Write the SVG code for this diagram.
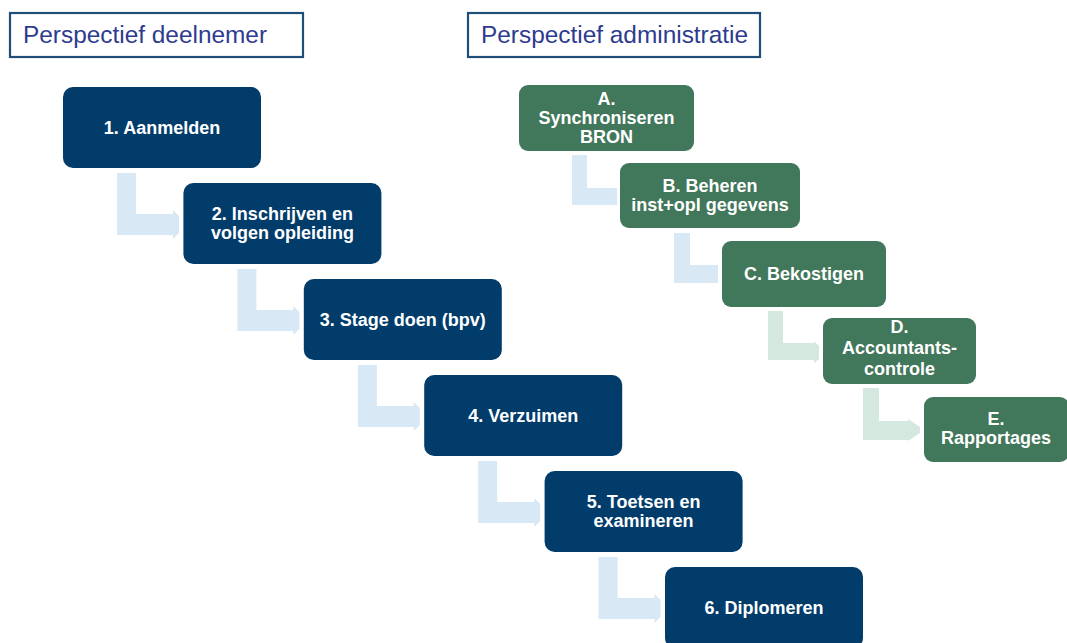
<svg xmlns="http://www.w3.org/2000/svg" width="1067" height="643" viewBox="0 0 1067 643">
<defs>
<style>
.title{fill:#ffffff;stroke:#1f4e79;stroke-width:2.2}
.ttext{font-family:"Liberation Sans",Arial,sans-serif;font-size:24.4px;fill:#2e3b8f}
.bbox{fill:#023c6b}
.gbox{fill:#41775a}
.lbl{font-family:"Liberation Sans",Arial,sans-serif;font-size:18px;font-weight:bold;fill:#ffffff;text-anchor:middle}
.cb{fill:#d8e8f5}
.cg{fill:#d5e8e0}
</style>
</defs>
<rect width="1067" height="643" fill="#ffffff"/>
<g id="title-deelnemer">
<rect class="title" x="10" y="13" width="293" height="44"/>
<text class="ttext" x="23" y="43">Perspectief deelnemer</text>
</g>
<g id="title-administratie">
<rect class="title" x="468" y="13" width="292" height="44"/>
<text class="ttext" x="481" y="43">Perspectief administratie</text>
</g>
<g id="connectors">
<polygon class="cb" points="117,173 136,173 136,214 173,214 173,210 179,216 179,233 173,239 173,235 117,235"/>
<polygon class="cb" points="237.4,269 256.4,269 256.4,310 293.4,310 293.4,306 299.4,312 299.4,329 293.4,335 293.4,331 237.4,331"/>
<polygon class="cb" points="357.8,365 376.8,365 376.8,406 413.8,406 413.8,402 419.8,408 419.8,425 413.8,431 413.8,427 357.8,427"/>
<polygon class="cb" points="478.2,461 497.2,461 497.2,502 534.2,502 534.2,498 540.2,504 540.2,521 534.2,527 534.2,523 478.2,523"/>
<polygon class="cb" points="598.6,557 617.6,557 617.6,598 654.6,598 654.6,594 660.6,600 660.6,617 654.6,623 654.6,619 598.6,619"/>
<polygon class="cb" points="572,155 587,155 587,188 617,188 617,205 572,205"/>
<polygon class="cb" points="674,233 690,233 690,265 718,265 718,283 674,283"/>
<polygon class="cg" points="768,311 783,311 783,343 814,343 814,341 819,346 819,359 814,363 814,360 768,360"/>
<polygon class="cg" points="863,388 879,388 879,421 908,421 908,419 920,427 920,433 908,441 908,440 863,440"/>
</g>
<g id="node-1">
<rect class="bbox" x="63" y="87" width="198" height="81" rx="10"/>
<text class="lbl" x="162" y="134">1. Aanmelden</text>
</g>
<g id="node-2">
<rect class="bbox" x="183.4" y="183" width="198" height="81" rx="10"/>
<text class="lbl" x="282.4" y="220">2. Inschrijven en</text>
<text class="lbl" x="282.4" y="239">volgen opleiding</text>
</g>
<g id="node-3">
<rect class="bbox" x="303.8" y="279" width="198" height="81" rx="10"/>
<text class="lbl" x="402.8" y="326">3. Stage doen (bpv)</text>
</g>
<g id="node-4">
<rect class="bbox" x="424.2" y="375" width="198" height="81" rx="10"/>
<text class="lbl" x="523.2" y="422">4. Verzuimen</text>
</g>
<g id="node-5">
<rect class="bbox" x="544.6" y="471" width="198" height="81" rx="10"/>
<text class="lbl" x="643.6" y="508">5. Toetsen en</text>
<text class="lbl" x="643.6" y="527">examineren</text>
</g>
<g id="node-6">
<rect class="bbox" x="665" y="567" width="198" height="81" rx="10"/>
<text class="lbl" x="764" y="614">6. Diplomeren</text>
</g>
<g id="node-A">
<rect class="gbox" x="519" y="85" width="175" height="66" rx="9"/>
<text class="lbl" x="606.5" y="105">A.</text>
<text class="lbl" x="606.5" y="124">Synchroniseren</text>
<text class="lbl" x="606.5" y="143">BRON</text>
</g>
<g id="node-B">
<rect class="gbox" x="620" y="163" width="180" height="65" rx="9"/>
<text class="lbl" x="710" y="192">B. Beheren</text>
<text class="lbl" x="710" y="211">inst+opl gegevens</text>
</g>
<g id="node-C">
<rect class="gbox" x="722" y="241" width="164" height="66" rx="9"/>
<text class="lbl" x="804" y="280">C. Bekostigen</text>
</g>
<g id="node-D">
<rect class="gbox" x="823" y="318" width="153" height="66" rx="9"/>
<text class="lbl" x="899.5" y="333">D.</text>
<text class="lbl" x="899.5" y="354">Accountants-</text>
<text class="lbl" x="899.5" y="375">controle</text>
</g>
<g id="node-E">
<rect class="gbox" x="924" y="397" width="145" height="65" rx="9"/>
<text class="lbl" x="996" y="425">E.</text>
<text class="lbl" x="996" y="444">Rapportages</text>
</g>
</svg>
